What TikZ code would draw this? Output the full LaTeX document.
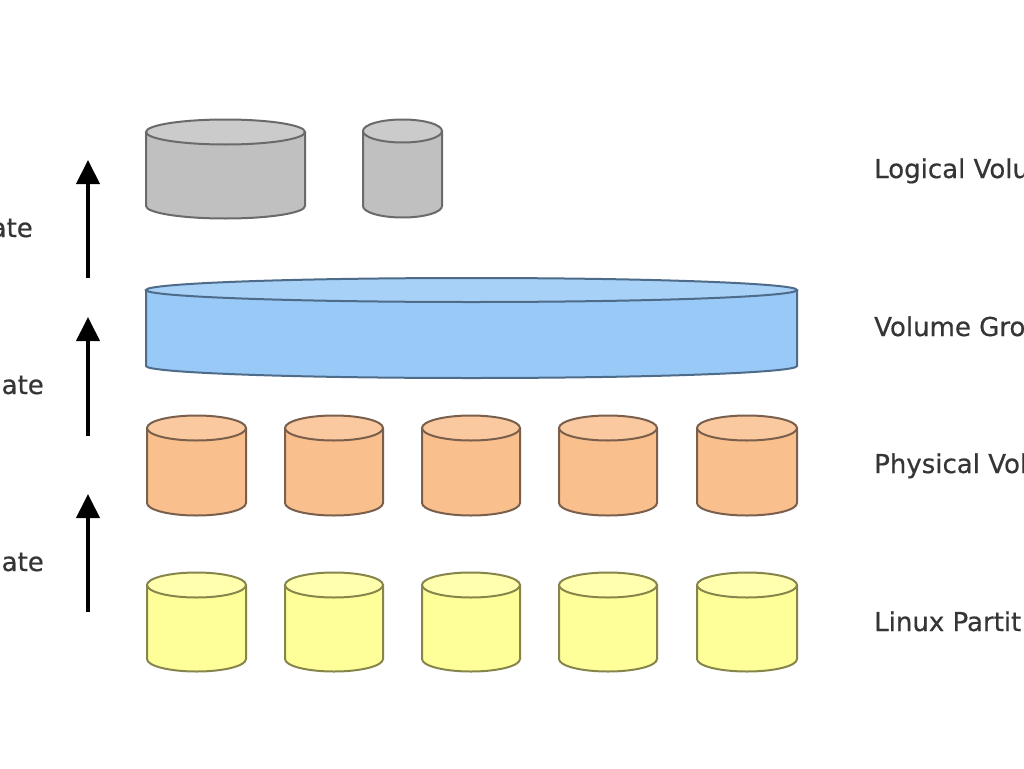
\documentclass[tikz,border=0pt]{standalone}
\usepackage{fontspec}
\setmainfont{DejaVu Sans}[FakeBold=0.5]
\newfontfamily\lblfont{DejaVu Sans}[FakeBold=0.5]
\usetikzlibrary{arrows.meta}
\definecolor{txt}{HTML}{353535}
\definecolor{grB}{HTML}{C0C0C0}\definecolor{grT}{HTML}{CBCBCB}\definecolor{grS}{HTML}{6A6A6A}
\definecolor{blB}{HTML}{99C9F7}\definecolor{blT}{HTML}{A8D1F8}\definecolor{blS}{HTML}{4E6C8A}
\definecolor{orB}{HTML}{F9C08E}\definecolor{orT}{HTML}{FAC9A0}\definecolor{orS}{HTML}{7A5F4C}
\definecolor{yeB}{HTML}{FFFF99}\definecolor{yeT}{HTML}{FFFFAE}\definecolor{yeS}{HTML}{86864C}
\tikzset{
  lbl/.style={font=\lblfont\fontsize{26}{30}\selectfont, text=txt, inner sep=0pt},
  uparrow/.style={line width=4pt, -{Triangle[width=23pt,length=24pt]}, black},
  grbody/.style={fill=grB}, grtop/.style={fill=grT, draw=grS, line width=2pt}, grline/.style={draw=grS, line width=2pt},
  blbody/.style={fill=blB}, bltop/.style={fill=blT, draw=blS, line width=2pt}, blline/.style={draw=blS, line width=2pt},
  orbody/.style={fill=orB}, ortop/.style={fill=orT, draw=orS, line width=2pt}, orline/.style={draw=orS, line width=2pt},
  yebody/.style={fill=yeB}, yetop/.style={fill=yeT, draw=yeS, line width=2pt}, yeline/.style={draw=yeS, line width=2pt},
}
% #1 x left, #2 x right, #3 y top centre, #4 y bottom centre, #5 y radius, #6 style prefix
\newcommand\mycyl[6]{%
  \pgfmathsetmacro\cylcx{(#1+#2)/2}%
  \pgfmathsetmacro\cylrx{(#2-#1)/2}%
  \path[#6body] (#1,#3) -- (#1,#4) arc[start angle=180,end angle=360,x radius=\cylrx pt,y radius=#5pt] -- (#2,#3) -- cycle;
  \path[#6line] (#1,#3) -- (#1,#4) arc[start angle=180,end angle=360,x radius=\cylrx pt,y radius=#5pt] -- (#2,#3);
  \path[#6top] (\cylcx,#3) ellipse[x radius=\cylrx pt, y radius=#5pt];
}
\begin{document}
\begin{tikzpicture}[x=1pt,y=-1pt]
\useasboundingbox (0,0) rectangle (1024,768);
\clip (0,0) rectangle (1024,768);
\fill[white] (0,0) rectangle (1024,768);

% logical volumes
\mycyl{146}{305}{132}{206}{12.5}{gr}
\mycyl{363}{442}{131}{206}{11.5}{gr}
% volume group
\mycyl{146}{797}{290}{366}{12}{bl}
% physical volumes and partitions
\foreach \xa/\xb in {147/246, 285/383, 422/520, 559/657, 697/797}{
  \mycyl{\xa}{\xb}{428}{503}{12.5}{or}
  \mycyl{\xa}{\xb}{585}{659}{12.5}{ye}
}

% arrows
\coordinate (a1s) at (88,278); \coordinate (a1e) at (88,160);
\coordinate (a2s) at (88,436); \coordinate (a2e) at (88,317);
\coordinate (a3s) at (88,612); \coordinate (a3e) at (88,494);
\draw[uparrow] (a1s) -- (a1e);
\draw[uparrow] (a2s) -- (a2e);
\draw[uparrow] (a3s) -- (a3e);

% left labels
\node[lbl, anchor=base east] (l1) at (33,237) {ate};
\node[lbl, anchor=base east] (l2) at (44,394) {ate};
\node[lbl, anchor=base east] (l3) at (44,571) {ate};

% right labels
\node[lbl, anchor=base west] (r1) at (874,178) {Logical Volu};
\node[lbl, anchor=base west] (r2) at (874,336) {Volume Gro};
\node[lbl, anchor=base west] (r3) at (874,473) {Physical Vol};
\node[lbl, anchor=base west] (r4) at (874,631) {Linux Partit};
\end{tikzpicture}
\end{document}
